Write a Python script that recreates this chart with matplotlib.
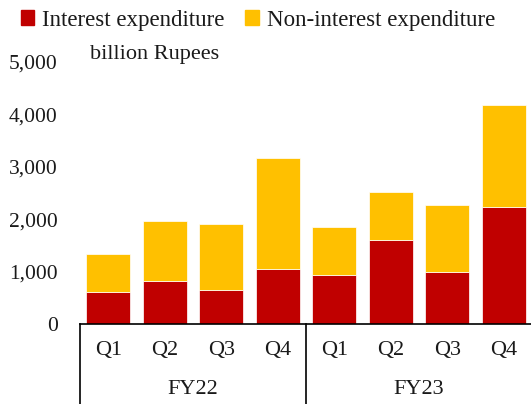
import matplotlib.pyplot as plt
from matplotlib.patches import Patch
from matplotlib.ticker import FuncFormatter

plt.rcParams['font.family'] = ['Liberation Serif', 'DejaVu Serif']

quarters = ['Q1', 'Q2', 'Q3', 'Q4', 'Q1', 'Q2', 'Q3', 'Q4']
years = ['FY22', 'FY23']
interest = [610, 820, 650, 1050, 940, 1600, 990, 2235]
non_interest = [735, 1155, 1270, 2110, 910, 920, 1280, 1950]

red = '#C00000'
yellow = '#FFC000'
txt = '#1a1a1a'

fig = plt.figure(figsize=(5.31, 4.04), dpi=100)
ax = fig.add_axes([80 / 531, 1 - 324.3 / 404, 452 / 531, 262.5 / 404])

x = list(range(len(quarters)))
ax.bar(x, interest, width=0.77, color=red, edgecolor='white', linewidth=0.5)
ax.bar(x, non_interest, width=0.77, bottom=interest, color=yellow,
       edgecolor='white', linewidth=0.5)

ax.set_xlim(-0.5, 7.5)
ax.set_ylim(0, 5000)
ax.set_yticks(range(0, 5001, 1000))
ax.yaxis.set_major_formatter(FuncFormatter(lambda v, p: f'{int(v):,}'))
ax.tick_params(axis='y', length=0, pad=16, labelsize=15.5, labelcolor=txt)

ax.set_xticks(x, quarters)
ax.tick_params(axis='x', length=0, pad=12, labelsize=16, labelcolor=txt)

for s in ['top', 'right', 'left']:
    ax.spines[s].set_visible(False)
ax.spines['bottom'].set_linewidth(1.2)
ax.spines['bottom'].set_color('black')

# year group separators and labels below the quarter labels
trans = ax.get_xaxis_transform()
for xv in [-0.5, 3.5, 7.5]:
    ax.plot([xv, xv], [0, -0.32], transform=trans, color='black',
            linewidth=1.2, clip_on=False)
for i, yr in enumerate(years):
    ax.text(1.5 + 4 * i, -0.25, yr, transform=trans, ha='center',
            va='center', fontsize=16, color=txt)

ax.text(0.023, 1.027, 'billion Rupees', transform=ax.transAxes,
        fontsize=16, color=txt, va='center', ha='left')

handles = [Patch(color=red, label='Interest expenditure'),
           Patch(color=yellow, label='Non-interest expenditure')]
fig.legend(handles=handles, loc='center left', bbox_to_anchor=(0.0, 0.95),
           ncol=2, frameon=False, fontsize=16.5, handlelength=0.6,
           handleheight=0.6, handletextpad=0.35, columnspacing=0.9,
           labelcolor=txt)

fig.savefig('out.png', dpi=100)
